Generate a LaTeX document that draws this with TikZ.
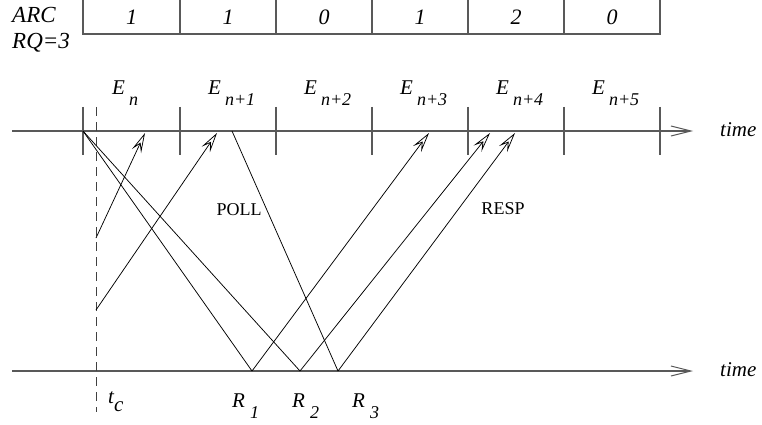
\documentclass[tikz,border=0pt]{standalone}
\usepackage{fontspec}
\setmainfont{Liberation Serif}
\usetikzlibrary{arrows.meta}
\begin{document}
\begin{tikzpicture}[x=1pt,y=-1pt,
  axis/.style={line width=1.4pt, draw=black!65},
  tick/.style={line width=1.2pt, draw=black!65},
  sig/.style={line width=0.75pt, draw=black},
  sigarrow/.style={sig, -{Stealth[open, length=20pt, width=10pt, inset=8pt]}},
  timearrow/.style={axis, -{Straight Barb[length=20pt, width=10pt, line width=1pt]}},
  it/.style={inner sep=0pt, font=\fontsize{21}{21}\selectfont\itshape, anchor=base west},
  big/.style={inner sep=0pt, font=\fontsize{23}{23}\selectfont\itshape, anchor=base west},
  num/.style={inner sep=0pt, font=\fontsize{22}{22}\selectfont\itshape},
  msg/.style={inner sep=0pt, font=\fontsize{18}{18}\selectfont},
  dashline/.style={line width=1pt, draw=black!75, dash pattern=on 9pt off 6pt}
]
\useasboundingbox (0,0) rectangle (762,425);

% table
\draw[tick] (83,0) -- (83,34) -- (660,34) -- (660,0);
\foreach \x in {180,276,372,468,564} \draw[tick] (\x,0) -- (\x,34);
\node[big] (arc) at (12,23) {ARC};
\node[big] (rq) at (12,49) {RQ=3};
\node[num] (c1) at (131.5,17) {1};
\node[num] (c2) at (228,17) {1};
\node[num] (c3) at (324,17) {0};
\node[num] (c4) at (420,17) {1};
\node[num] (c5) at (516,17) {2};
\node[num] (c6) at (612,17) {0};

% top time axis
\coordinate (ta) at (12,131);
\coordinate (tb) at (693,131);
\draw[timearrow] (ta) -- (tb);
\foreach \x in {83,180,276,372,468,564,660} \draw[tick] (\x,107) -- (\x,155);
\node[it, anchor=west] (time1) at (720,130) {time};

% bottom time axis
\coordinate (ba) at (12,371);
\coordinate (bb) at (693,371);
\draw[timearrow] (ba) -- (bb);
\node[it, anchor=west] (time2) at (720,370) {time};

% epochs
\newcommand{\epochlab}[1]{E\kern4pt\raisebox{-11pt}{\fontsize{18}{18}\selectfont #1}}
\node[it] (e0) at (112,95) {\epochlab{n}};
\node[it] (e1) at (208,95) {\epochlab{n+1}};
\node[it] (e2) at (304,95) {\epochlab{n+2}};
\node[it] (e3) at (400,95) {\epochlab{n+3}};
\node[it] (e4) at (496,95) {\epochlab{n+4}};
\node[it] (e5) at (592,95) {\epochlab{n+5}};

% dashed t_c line
\coordinate (dtop) at (96,107);
\coordinate (dbot) at (96,412);
\draw[dashline] (dtop) -- (dbot);
\node[it] (tc) at (108,403) {t\raisebox{-8pt}{c}};

% points
\coordinate (p0) at (83,131);
\coordinate (p1) at (232,131);
\coordinate (r1) at (252,371);
\coordinate (r2) at (300,371);
\coordinate (r3) at (338,371);
\coordinate (s1) at (96,238);
\coordinate (s2) at (96,310);
\coordinate (a1) at (145,133);
\coordinate (a2) at (217,133);
\coordinate (a3) at (429,133);
\coordinate (a4) at (490,133);
\coordinate (a5) at (515,133);

% poll lines
\draw[sig] (p0) -- (r1);
\draw[sig] (p0) -- (r2);
\draw[sig] (p1) -- (r3);
% responses
\draw[sigarrow] (s1) -- (a1);
\draw[sigarrow] (s2) -- (a2);
\draw[sigarrow] (r1) -- (a3);
\draw[sigarrow] (r2) -- (a4);
\draw[sigarrow] (r3) -- (a5);

\node[msg] (poll) at (239,210) {POLL};
\node[msg] (resp) at (503,209) {RESP};

% R labels
\newcommand{\rlab}[1]{R\kern5pt\raisebox{-11pt}{\fontsize{18}{18}\selectfont #1}}
\node[it] (R1) at (232,407) {\rlab{1}};
\node[it] (R2) at (292,407) {\rlab{2}};
\node[it] (R3) at (352,407) {\rlab{3}};
\end{tikzpicture}
\end{document}
